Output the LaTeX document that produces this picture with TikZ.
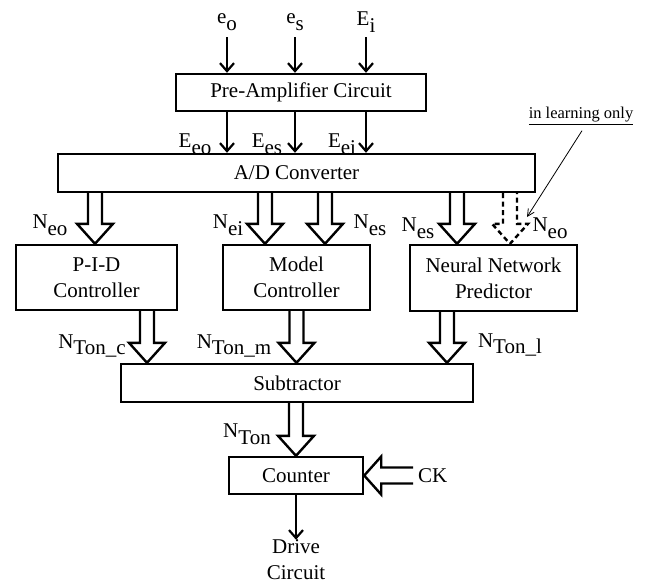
\documentclass[tikz,border=0pt]{standalone}
\usepackage{fontspec}
\setmainfont{Liberation Serif}
\usetikzlibrary{calc,arrows.meta}
\newcommand\sbs[2]{#1\raisebox{-0.32em}{#2}}
\newcommand\fatdown[3][]{\draw[fat,#1] ($(#2)+(-7,0)$) -- ($(#3)+(-7,-20)$) -- ($(#3)+(-18,-20)$) -- (#3) -- ($(#3)+(18,-20)$) -- ($(#3)+(7,-20)$) -- ($(#2)+(7,0)$);}

\begin{document}
\begin{tikzpicture}[x=1pt,y=-1pt,
		box/.style={draw,line width=2.4pt,inner sep=0pt,align=center},
		sig/.style={line width=2.2pt,-{Straight Barb[length=8pt,width=14pt]}},
		fat/.style={line width=2.4pt,line join=miter},
		lbl/.style={inner sep=0pt,align=center},
		every node/.style={font=\fontsize{21}{26}\selectfont}]
		%%%%% START %%%%%
		\useasboundingbox (0,0) rectangle (648,584);
		
		\node[box,minimum width=250pt,minimum height=37pt] (pre) at (301,92.5) {Pre-Amplifier Circuit};
		\node[box,minimum width=477pt,minimum height=38pt] (ad) at (296.5,173) {A/D Converter};
		\node[box,minimum width=161pt,minimum height=65pt] (pid) at (96.5,277.5) {P-I-D\\Controller};
		\node[box,minimum width=147pt,minimum height=65pt] (model) at (296.5,277.5) {Model\\Controller};
		\node[box,minimum width=167pt,minimum height=66pt] (nn) at (493.5,278) {Neural Network\\Predictor};
		\node[box,minimum width=352pt,minimum height=38pt] (sub) at (297,383) {Subtractor};
		\node[box,minimum width=134pt,minimum height=37pt] (cnt) at (296,475.5) {Counter};
		
		% inputs
		\coordinate (ineo) at (227,37);
		\coordinate (ines) at (295,37);
		\coordinate (inei) at (366,37);
		\node[lbl] (leo) at (227,22) {\sbs{e}{o}};
		\node[lbl] (les) at (295,22) {\sbs{e}{s}};
		\node[lbl] (lei) at (366,22) {\sbs{E}{i}};
		\draw[sig] (ineo) -- (ineo |- pre.north);
		\draw[sig] (ines) -- (ines |- pre.north);
		\draw[sig] (inei) -- (inei |- pre.north);
		
		\draw[sig] (pre.south -| ineo) -- (ad.north -| ineo);
		\draw[sig] (pre.south -| ines) -- (ad.north -| ines);
		\draw[sig] (pre.south -| inei) -- (ad.north -| inei);
		\node[lbl] (leeo) at (195,144) {\sbs{E}{eo}};
		\node[lbl] (lees) at (267,144) {\sbs{E}{es}};
		\node[lbl] (leei) at (342,144) {\sbs{E}{ei}};
		
		% A/D outputs
		\coordinate (pidin) at (95,0);
		\coordinate (modin1) at (265,0);
		\coordinate (modin2) at (325,0);
		\coordinate (nnin1) at (457,0);
		\coordinate (nnin2) at (510,0);
		\fatdown{ad.south -| pidin}{pid.north -| pidin}
		\fatdown{ad.south -| modin1}{model.north -| modin1}
		\fatdown{ad.south -| modin2}{model.north -| modin2}
		\fatdown{ad.south -| nnin1}{nn.north -| nnin1}
		\fatdown[dash pattern=on 5pt off 3.5pt]{ad.south -| nnin2}{nn.north -| nnin2}
		\node[lbl] (lneo) at (50,225) {\sbs{N}{eo}};
		\node[lbl] (lnei) at (228,225) {\sbs{N}{ei}};
		\node[lbl] (lnes) at (370,225) {\sbs{N}{es}};
		\node[lbl] (lnes2) at (418,228) {\sbs{N}{es}};
		\node[lbl] (lneo2) at (550,228) {\sbs{N}{eo}};
		
		% note
		\node[lbl,font=\fontsize{16.5}{18}\selectfont] (learn) at (581,116) {\underline{in learning only}};
		\coordinate (learntip) at (527,217);
		\draw[line width=0.8pt,-{Straight Barb[length=7pt,width=7pt]}] ([xshift=1pt,yshift=-6pt]learn.south) -- (learntip);
		
		% controller outputs
		\coordinate (pidout) at (147,0);
		\coordinate (nnout) at (447,0);
		\fatdown{pid.south -| pidout}{sub.north -| pidout}
		\fatdown{model.south}{sub.north -| model.south}
		\fatdown{nn.south -| nnout}{sub.north -| nnout}
		\node[lbl] (lntc) at (92,346) {\sbs{N}{Ton\_c}};
		\node[lbl] (lntm) at (234,346) {\sbs{N}{Ton\_m}};
		\node[lbl] (lntl) at (510,345) {\sbs{N}{Ton\_l}};
		
		% counter
		\fatdown{sub.south -| cnt.north}{cnt.north}
		\node[lbl] (lnt) at (247,434) {\sbs{N}{Ton}};
		\coordinate (ck) at (413,475.5);
		\draw[fat] ($(ck)+(0,-8)$) -- ($(cnt.east)+(17,-8)$) -- ($(cnt.east)+(17,-19)$) -- (cnt.east) -- ($(cnt.east)+(17,19)$) -- ($(cnt.east)+(17,8)$) -- ($(ck)+(0,8)$);
		\node[lbl,anchor=west] (lck) at (418,475.5) {CK};
		
		\node[lbl] (drive) at (296,560) {Drive\\Circuit};
		\draw[sig] (cnt.south) -- (drive.north);
		
		%%%%% END %%%%%
	\end{tikzpicture}
\end{document}
